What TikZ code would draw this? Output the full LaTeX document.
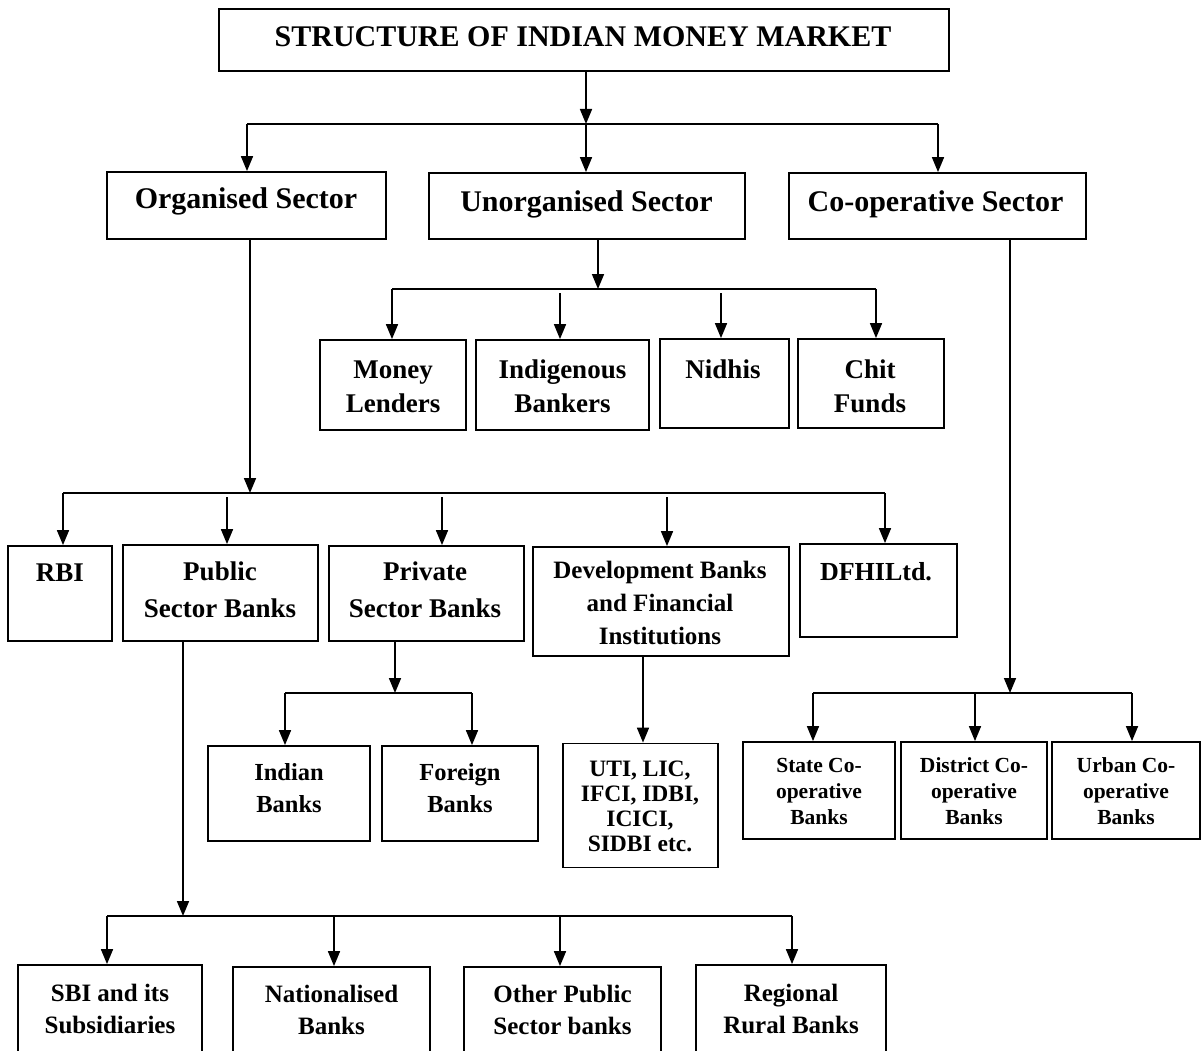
\documentclass[tikz,border=0pt]{standalone}
\usepackage{fontspec}
\setmainfont{Liberation Serif}
\usetikzlibrary{arrows.meta}
\begin{document}
\begin{tikzpicture}[x=1pt,y=-1pt,
  box/.style 2 args={draw, line width=1.8pt, rectangle, inner sep=0pt,
    minimum width=#1pt, minimum height=#2pt},
  conn/.style={line width=1.7pt},
  arr/.style={conn, -{Triangle[length=15pt,width=12pt]}},
  % anchored on the baseline of the last line of the text
  lbl/.style 2 args={anchor=base, align=center, inner sep=0pt,
    font=\bfseries\fontsize{#1pt}{#2pt}\selectfont},
]
\useasboundingbox (0,0) rectangle (1202,1051);
\clip (0,0) rectangle (1202,1051);

% ---------- boxes ----------
\node[box={730}{62}] (title) at (584,40) {};
\node[box={279}{67}] (org) at (246.5,205.5) {};
\node[box={316}{66}] (unorg) at (587,206) {};
\node[box={297}{66}] (coop) at (937.5,206) {};

\node[box={146}{90}] (money) at (393,385) {};
\node[box={173}{90}] (indig) at (562.5,385) {};
\node[box={129}{89}] (nidhi) at (724.5,383.5) {};
\node[box={146}{89}] (chit) at (871,383.5) {};

\node[box={104}{95}] (rbi) at (60,593.5) {};
\node[box={195}{96}] (public) at (220.5,593) {};
\node[box={195}{95}] (private) at (426.5,593.5) {};
\node[box={256}{109}] (dev) at (661,601.5) {};
\node[box={157}{93}] (dfhi) at (878.5,590.5) {};

\node[box={162}{95}] (indian) at (289,793.5) {};
\node[box={156}{95}] (foreign) at (460,793.5) {};
\node[box={155}{124}] (uti) at (640.5,805.5) {};
\node[box={152}{97}] (state) at (819,790.5) {};
\node[box={146}{97}] (district) at (974,790.5) {};
\node[box={148}{97}] (urban) at (1126,790.5) {};

\node[box={184}{110}] (sbi) at (110,1020) {};
\node[box={197}{108}] (nat) at (331.5,1021) {};
\node[box={197}{108}] (other) at (562.5,1021) {};
\node[box={190}{110}] (rrb) at (791,1020) {};

% ---------- texts ----------
\node[lbl={30}{34}] (title-t) at (583,47) {STRUCTURE OF INDIAN MONEY MARKET};
\node[lbl={30}{34}] (org-t) at (246,209) {Organised Sector};
\node[lbl={30}{34}] (unorg-t) at (586.5,212) {Unorganised Sector};
\node[lbl={30}{34}] (coop-t) at (935.5,212) {Co-operative Sector};

\node[lbl={27}{34}] (money-t) at (393,412) {Money\\Lenders};
\node[lbl={27}{34}] (indig-t) at (562.5,412) {Indigenous\\Bankers};
\node[lbl={27}{34}] (nidhi-t) at (723,378) {Nidhis};
\node[lbl={27}{34}] (chit-t) at (870,412) {Chit\\Funds};

\node[lbl={27}{37}] (rbi-t) at (60,581) {RBI};
\node[lbl={27}{37}] (public-t) at (220,617) {Public\\Sector Banks};
\node[lbl={27}{37}] (private-t) at (425,617) {Private\\Sector Banks};
\node[lbl={25}{33}] (dev-t) at (660,644) {Development Banks\\and Financial\\Institutions};
\node[lbl={26}{33}] (dfhi-t) at (876,580) {DFHILtd.};

\node[lbl={24.5}{32}] (indian-t) at (289,812) {Indian\\Banks};
\node[lbl={24.5}{32}] (foreign-t) at (460,812) {Foreign\\Banks};
\node[lbl={23.5}{25}] (uti-t) at (640,851) {UTI, LIC,\\IFCI, IDBI,\\ICICI,\\SIDBI etc.};
\node[lbl={21.5}{26}] (state-t) at (819,824) {State Co-\\operative\\Banks};
\node[lbl={21.5}{26}] (district-t) at (974,824) {District Co-\\operative\\Banks};
\node[lbl={21.5}{26}] (urban-t) at (1126,824) {Urban Co-\\operative\\Banks};

\node[lbl={25}{32}] (sbi-t) at (110,1033) {SBI and its\\Subsidiaries};
\node[lbl={25}{32}] (nat-t) at (331.5,1034) {Nationalised\\Banks};
\node[lbl={25}{32}] (other-t) at (562.5,1034) {Other Public\\Sector banks};
\node[lbl={25}{32}] (rrb-t) at (791,1033) {Regional\\Rural Banks};

% ---------- junction points ----------
\coordinate (j0) at (586,124);
\coordinate (b1l) at (247,124);
\coordinate (b1r) at (938,124);

\coordinate (j2) at (598,289);
\coordinate (b2l) at (392,289);
\coordinate (b2r) at (876,289);
\coordinate (b2a) at (560,293);
\coordinate (b2b) at (721,293);

\coordinate (j3) at (250,493);
\coordinate (b3l) at (63,493);
\coordinate (b3r) at (885,493);
\coordinate (b3a) at (227,497);
\coordinate (b3b) at (442,497);
\coordinate (b3c) at (667,497);

\coordinate (j4) at (395,693);
\coordinate (b4l) at (285,693);
\coordinate (b4r) at (472,693);

\coordinate (j5) at (1010,693);
\coordinate (b5l) at (813,693);
\coordinate (b5m) at (975,693);
\coordinate (b5r) at (1132,693);

\coordinate (j6) at (183,916);
\coordinate (b6l) at (107,916);
\coordinate (b6a) at (334,916);
\coordinate (b6b) at (560,916);
\coordinate (b6r) at (792,916);

% ---------- connectors ----------
% top level
\draw[arr] (title.south -| j0) -- (j0);
\draw[conn] (b1l) -- (b1r);
\draw[arr] (b1l) -- (b1l |- org.north);
\draw[arr] (j0) -- (j0 |- unorg.north);
\draw[arr] (b1r) -- (b1r |- coop.north);

% unorganised sector
\draw[arr] (unorg.south -| j2) -- (j2);
\draw[conn] (b2l) -- (b2r);
\draw[arr] (b2l) -- (b2l |- money.north);
\draw[arr] (b2a) -- (b2a |- indig.north);
\draw[arr] (b2b) -- (b2b |- nidhi.north);
\draw[arr] (b2r) -- (b2r |- chit.north);

% organised sector
\draw[arr] (org.south -| j3) -- (j3);
\draw[conn] (b3l) -- (b3r);
\draw[arr] (b3l) -- (b3l |- rbi.north);
\draw[arr] (b3a) -- (b3a |- public.north);
\draw[arr] (b3b) -- (b3b |- private.north);
\draw[arr] (b3c) -- (b3c |- dev.north);
\draw[arr] (b3r) -- (b3r |- dfhi.north);

% private sector banks
\draw[arr] (private.south -| j4) -- (j4);
\draw[conn] (b4l) -- (b4r);
\draw[arr] (b4l) -- (b4l |- indian.north);
\draw[arr] (b4r) -- (b4r |- foreign.north);

% development banks
\draw[arr] (dev.south -| 643,0) -- (uti.north -| 643,0);

% co-operative sector
\draw[arr] (coop.south -| j5) -- (j5);
\draw[conn] (b5l) -- (b5r);
\draw[arr] (b5l) -- (b5l |- state.north);
\draw[arr] (b5m) -- (b5m |- district.north);
\draw[arr] (b5r) -- (b5r |- urban.north);

% public sector banks
\draw[arr] (public.south -| j6) -- (j6);
\draw[conn] (b6l) -- (b6r);
\draw[arr] (b6l) -- (b6l |- sbi.north);
\draw[arr] (b6a) -- (b6a |- nat.north);
\draw[arr] (b6b) -- (b6b |- other.north);
\draw[arr] (b6r) -- (b6r |- rrb.north);
\end{tikzpicture}
\end{document}
